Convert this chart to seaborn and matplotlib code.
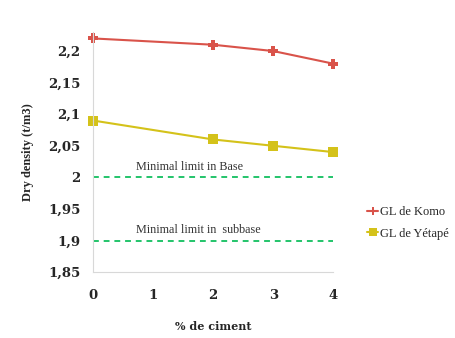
import numpy as np
import pandas as pd
import seaborn as sns
import matplotlib.pyplot as plt

ciment = [0, 2, 3, 4]
komo = [2.22, 2.21, 2.20, 2.18]
yetap = [2.09, 2.06, 2.05, 2.04]
series_names = ['GL de Komo', 'GL de Yétapé']
limit_base = 2.0
limit_subbase = 1.9
yticks = [1.85, 1.9, 1.95, 2.0, 2.05, 2.1, 2.15, 2.2]
ytick_labels = ['1,85', '1,9', '1,95', '2', '2,05', '2,1', '2,15', '2,2']

df = pd.DataFrame({
    'ciment': ciment * 2,
    'density': komo + yetap,
    'serie': [series_names[0]] * len(ciment) + [series_names[1]] * len(ciment),
})

sns.set_style('white')
plt.rcParams['font.family'] = ['Liberation Serif', 'DejaVu Serif']

fig = plt.figure(figsize=(4.56, 3.38), dpi=100)
ax = fig.add_axes([0.204, 0.195, 0.527, 0.71])

palette = {series_names[0]: '#d9534a', series_names[1]: '#d4c21a'}
sns.lineplot(data=df, x='ciment', y='density', hue='serie', style='serie',
             palette=palette, markers={series_names[0]: 'P', series_names[1]: 's'},
             dashes=False, markersize=7, linewidth=1.5, markeredgewidth=0,
             clip_on=False, ax=ax)

ax.axhline(limit_base, color='#22c46a', ls=(0, (3, 2.5)), lw=1.4)
ax.axhline(limit_subbase, color='#22c46a', ls=(0, (3, 2.5)), lw=1.4)
ax.text(0.72, limit_base + 0.012, 'Minimal limit in Base', fontsize=8.7, color='#333333')
ax.text(0.72, limit_subbase + 0.012, 'Minimal limit in  subbase', fontsize=8.7, color='#333333')

tick_font = {'family': 'DejaVu Serif', 'weight': 'bold', 'size': 9.5}
ax.set_xlim(0, 4)
ax.set_ylim(1.85, 2.23)
ax.set_xticks([0, 1, 2, 3, 4])
ax.set_xticklabels(['0', '1', '2', '3', '4'], fontdict=tick_font)
ax.set_yticks(yticks)
ax.set_yticklabels(ytick_labels, fontdict=tick_font)
ax.tick_params(axis='both', length=4, color='#d0d0d0', direction='out', pad=8)
ax.tick_params(axis='y', pad=5)
for s in ['top', 'right']:
    ax.spines[s].set_visible(False)
for s in ['left', 'bottom']:
    ax.spines[s].set_color('#d8d8d8')

ax.set_xlabel('% de ciment', fontdict={'family': 'DejaVu Serif', 'weight': 'bold', 'size': 8},
              labelpad=14)
ax.set_ylabel('Dry density (t/m3)', fontsize=9, fontweight='bold', labelpad=10)

leg = ax.legend(loc='center left', bbox_to_anchor=(0.805, 0.34), bbox_transform=fig.transFigure,
                frameon=False, fontsize=9, handlelength=0.9, handletextpad=0.15,
                labelspacing=0.75, borderpad=0, borderaxespad=0, markerscale=0.75)

fig.savefig('out.png', dpi=100)
